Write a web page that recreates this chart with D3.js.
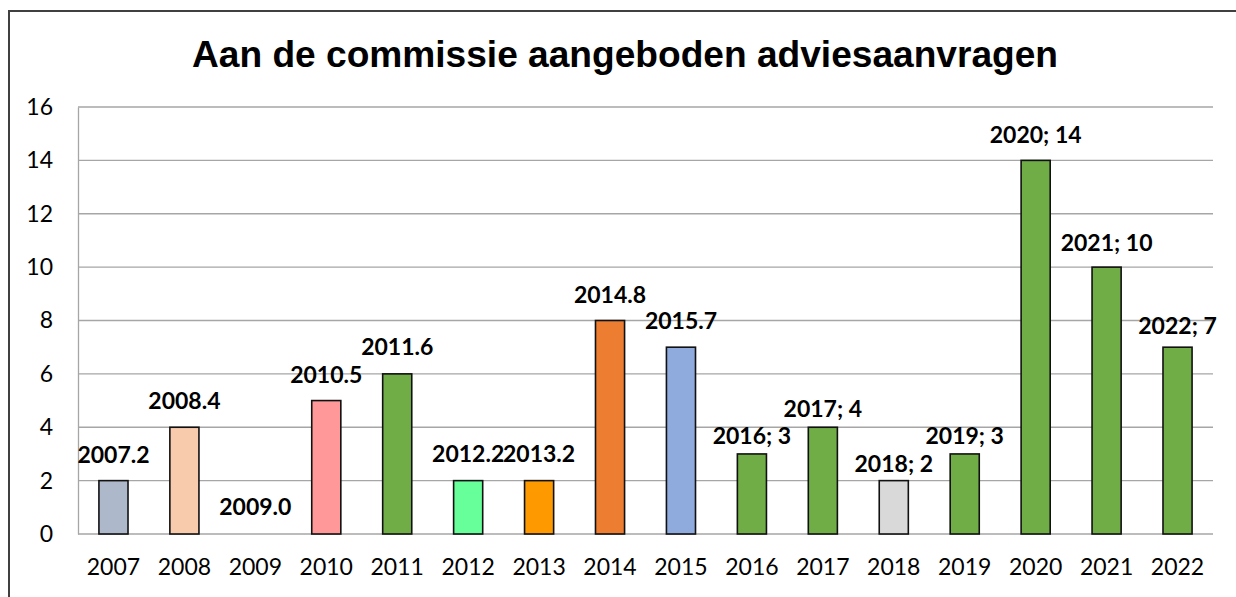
<!DOCTYPE html>
<html>
<head>
<meta charset="utf-8">
<script src="https://cdn.jsdelivr.net/npm/d3@7"></script>
<style>
  html, body { margin: 0; padding: 0; background: #fff; }
  #chart { width: 1236px; height: 597px; }
</style>
</head>
<body>
<div id="chart"></div>
<script>
// Chart data
const years = ['2007','2008','2009','2010','2011','2012','2013','2014','2015','2016','2017','2018','2019','2020','2021','2022'];
const counts = [2, 4, 0, 5, 6, 2, 2, 8, 7, 3, 4, 2, 3, 14, 10, 7];
const labelSeps = ['.','.','.','.','.','.','.','.','.','; ','; ','; ','; ','; ','; ','; '];
const barColors = ['#adb9ca','#f8cbad','#a5a5a5','#ff9999','#70ad47','#66ff99','#ff9900','#ed7d31',
                   '#8faadc','#70ad47','#70ad47','#d9d9d9','#70ad47','#70ad47','#70ad47','#70ad47'];
const yTicks = [0, 2, 4, 6, 8, 10, 12, 14, 16];
const title = 'Aan de commissie aangeboden adviesaanvragen';

// how far (px) each data label sits above its bar, as placed in the original
const labelLift = [18, 18, 19, 18, 19, 19, 19, 18, 18, 10, 10, 9, 10, 17, 16, 13];

const width = 1236, height = 597;
const margin = { top: 107, right: 23, bottom: 63, left: 78 };
const innerW = width - margin.left - margin.right;
const innerH = height - margin.top - margin.bottom;
const bodyFont = 'Lato, "Open Sans", sans-serif';

const svg = d3.select('#chart').append('svg')
  .attr('width', width)
  .attr('height', height);

// outer chart border (runs off the right/bottom edge like the original)
svg.append('rect')
  .attr('x', 9).attr('y', 11)
  .attr('width', width + 10).attr('height', height + 10)
  .attr('fill', 'none')
  .attr('stroke', '#404040')
  .attr('stroke-width', 2);

svg.append('text')
  .attr('x', 625)
  .attr('y', 67)
  .attr('text-anchor', 'middle')
  .style('font-family', '"Liberation Sans", Arial, sans-serif')
  .style('font-weight', 'bold')
  .style('font-size', '37px')
  .attr('textLength', 866)
  .attr('lengthAdjust', 'spacingAndGlyphs')
  .attr('fill', '#000')
  .text(title);

const g = svg.append('g').attr('transform', `translate(${margin.left},${margin.top})`);

const x = d3.scaleBand()
  .domain(years)
  .range([0, innerW])
  .paddingInner(0.59)
  .paddingOuter(0.295);

const y = d3.scaleLinear()
  .domain([0, 16])
  .range([innerH, 0]);

// gridlines
g.append('g')
  .selectAll('line')
  .data(yTicks)
  .join('line')
  .attr('x1', 0).attr('x2', innerW)
  .attr('y1', d => y(d)).attr('y2', d => y(d))
  .attr('stroke', '#a6a6a6')
  .attr('stroke-width', 1.3);

// y axis
const yAxis = g.append('g')
  .call(d3.axisLeft(y).tickValues(yTicks).tickSize(0).tickPadding(25));
yAxis.select('.domain').attr('stroke', '#a6a6a6').attr('stroke-width', 1.3);
yAxis.selectAll('text')
  .style('font-family', bodyFont).style('font-size', '23px').attr('fill', '#000');

// x axis
const xAxis = g.append('g')
  .attr('transform', `translate(0,${innerH})`)
  .call(d3.axisBottom(x).tickSize(0).tickPadding(25));
xAxis.select('.domain').remove();
xAxis.selectAll('text')
  .style('font-family', bodyFont).style('font-size', '23px').attr('fill', '#000');

// bars
g.selectAll('rect.bar')
  .data(years)
  .join('rect')
  .attr('class', 'bar')
  .attr('x', d => x(d))
  .attr('y', (d, i) => y(counts[i]))
  .attr('width', x.bandwidth())
  .attr('height', (d, i) => innerH - y(counts[i]))
  .attr('fill', (d, i) => barColors[i])
  .attr('stroke', (d, i) => counts[i] > 0 ? '#111' : 'none')
  .attr('stroke-width', 1.6);

// data labels: "2007.2" style up to 2015, "2016; 3" after
const labelText = (d, i) => labelSeps[i] === '.' && counts[i] === 0
  ? `${d}.0`
  : `${d}${labelSeps[i]}${counts[i]}`;

g.selectAll('text.lbl')
  .data(years)
  .join('text')
  .attr('class', 'lbl')
  .attr('x', d => x(d) + x.bandwidth() / 2)
  .attr('y', (d, i) => y(counts[i]) - labelLift[i])
  .attr('text-anchor', 'middle')
  .style('font-family', bodyFont)
  .style('font-size', '23px')
  .style('font-weight', 'bold')
  .attr('fill', '#000')
  .text(labelText);
</script>
</body>
</html>
